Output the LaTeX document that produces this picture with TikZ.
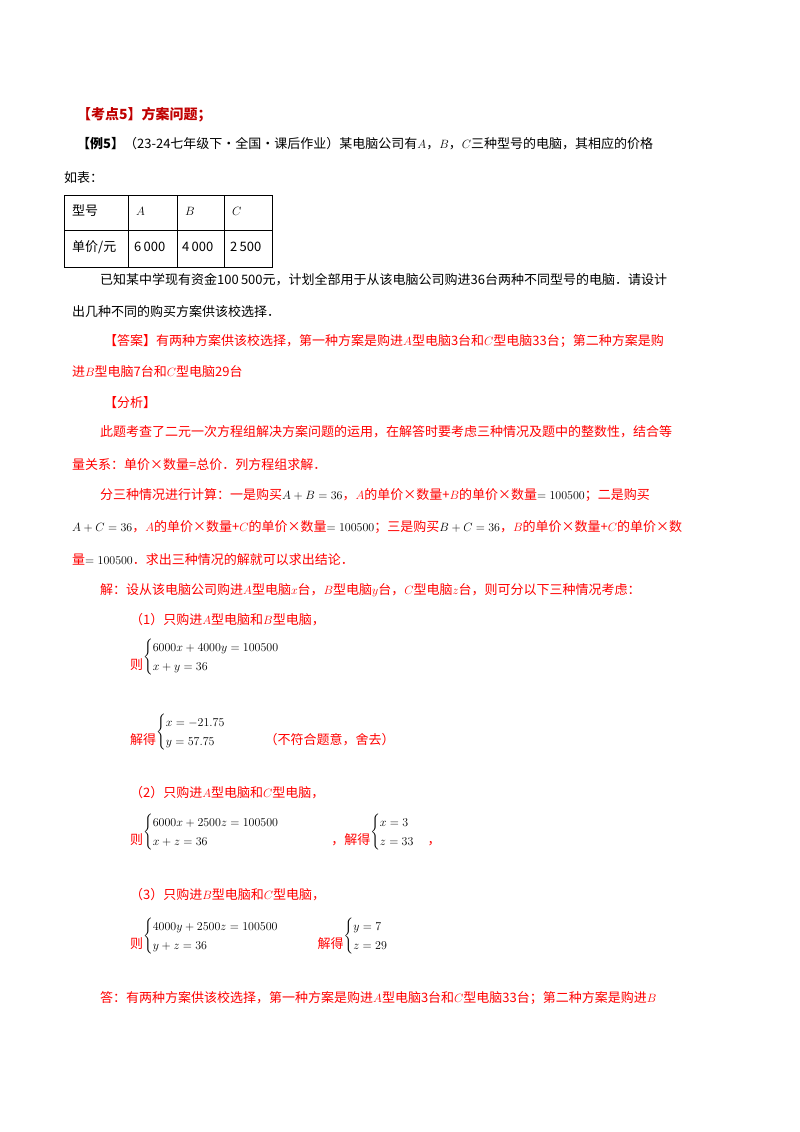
\documentclass[tikz,border=0pt]{standalone}
\usepackage{fontspec}
\usepackage{amsmath}
\newfontfamily\cjk{Noto Sans CJK SC}
\definecolor{dred}{RGB}{192,0,0}
\definecolor{rd}{RGB}{255,0,0}
\newcommand{\lw}[1]{\raisebox{-9pt}{#1}}
\begin{document}
\begin{tikzpicture}[x=1pt,y=-1pt,
  t/.style={anchor=west,inner sep=0pt,font=\cjk\fontsize{13}{16}\selectfont},
  r/.style={t,text=rd}]
\useasboundingbox (0,0) rectangle (800,1132);
\node[t,text=dred,font=\cjk\bfseries\fontsize{14}{16}\selectfont] (title) at (77,115) {【考点5】方案问题；};
\node[t] (ex) at (77,144) {\textbf{【例5】}（23-24七年级下·全国·课后作业）某电脑公司有$A$，$B$，$C$三种型号的电脑，其相应的价格};
\node[t] (ex2) at (64,178) {如表：};
% table
\draw (64,195) rectangle (272,267);
\draw (64,230) -- (272,230);
\foreach \x in {128,177,224} \draw (\x,195) -- (\x,267);
\node[t] (c11) at (72,211) {型号};
\node[t] (c12) at (136,211) {$A$};
\node[t] (c13) at (185,211) {$B$};
\node[t] (c14) at (232,211) {$C$};
\node[t] (c21) at (72,247) {单价/元};
\node[t] (c22) at (134,247) {6\,000};
\node[t] (c23) at (182,247) {4\,000};
\node[t] (c24) at (230,247) {2\,500};
\node[t] (p1) at (100,280) {已知某中学现有资金100\,500元，计划全部用于从该电脑公司购进36台两种不同型号的电脑．请设计};
\node[t] (p2) at (72,312) {出几种不同的购买方案供该校选择．};
\node[r] (a1) at (104,341) {【答案】有两种方案供该校选择，第一种方案是购进$A$型电脑3台和$C$型电脑33台；第二种方案是购};
\node[r] (a2) at (72,372) {进$B$型电脑7台和$C$型电脑29台};
\node[r] (f0) at (104,403) {【分析】};
\node[r] (f1) at (100,432) {此题考查了二元一次方程组解决方案问题的运用，在解答时要考虑三种情况及题中的整数性，结合等};
\node[r] (f2) at (72,465) {量关系：单价×数量=总价．列方程组求解．};
\node[r] (f3) at (100,495) {分三种情况进行计算：一是购买{\color{black}$A+B=36$}，$A$的单价×数量+$B$的单价×数量{\color{black}$=100500$}；二是购买};
\node[r] (f4) at (72,527) {{\color{black}$A+C=36$}，$A$的单价×数量+$C$的单价×数量{\color{black}$=100500$}；三是购买{\color{black}$B+C=36$}，$B$的单价×数量+$C$的单价×数};
\node[r] (f5) at (72,560) {量{\color{black}$=100500$}．求出三种情况的解就可以求出结论．};
\node[r] (s0) at (100,590) {解：设从该电脑公司购进$A$型电脑$x$台，$B$型电脑$y$台，$C$型电脑$z$台，则可分以下三种情况考虑：};
\node[r] (s1) at (130,620) {（1）只购进$A$型电脑和$B$型电脑，};
\node[r] (e1) at (130,657) {\lw{则}{\color{black}$\begin{cases}6000x+4000y=100500\\x+y=36\end{cases}$}};
\node[r] (e2) at (130,732) {\lw{解得}{\color{black}$\begin{cases}x=-21.75\\y=57.75\end{cases}$}\qquad \lw{（不符合题意，舍去）}};
\node[r] (s2) at (130,793) {（2）只购进$A$型电脑和$C$型电脑，};
\node[r] (e3) at (130,832) {\lw{则}{\color{black}$\begin{cases}6000x+2500z=100500\\x+z=36\end{cases}$}\qquad\quad \lw{，解得}{\color{black}$\begin{cases}x=3\\z=33\end{cases}$}\lw{，}};
\node[r] (s3) at (130,895) {（3）只购进$B$型电脑和$C$型电脑，};
\node[r] (e4) at (130,936) {\lw{则}{\color{black}$\begin{cases}4000y+2500z=100500\\y+z=36\end{cases}$}\qquad \lw{解得}{\color{black}$\begin{cases}y=7\\z=29\end{cases}$}};
\node[r] (ans) at (100,998) {答：有两种方案供该校选择，第一种方案是购进$A$型电脑3台和$C$型电脑33台；第二种方案是购进$B$};
\end{tikzpicture}
\end{document}
